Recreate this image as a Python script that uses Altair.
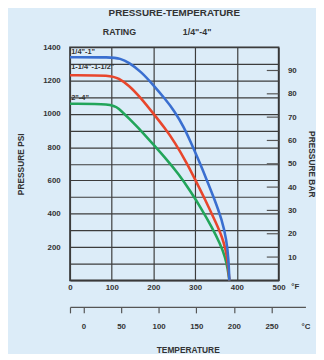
import altair as alt
import pandas as pd

# ---- data ----
sizes = ['1/4"-1"', '1-1/4"-1-1/2"', '2"-4"']
colors = ["#3a6fd0", "#e8462c", "#22a55a"]

temp_small = [0, 100, 120, 140, 171, 199, 227, 251, 274, 288, 312, 328, 347, 364, 375, 380, 382]
psi_small = [1340, 1340, 1332, 1311, 1252, 1175, 1092, 1015, 915, 838, 702, 601, 483, 364, 246, 128, 0]

temp_mid = [0, 100, 116, 140, 171, 199, 227, 251, 281, 300, 325, 350, 365, 373, 378, 382]
psi_mid = [1232, 1232, 1212, 1175, 1092, 1004, 915, 830, 700, 605, 480, 345, 258, 185, 115, 0]

temp_large = [0, 100, 116, 140, 171, 200, 230, 260, 290, 315, 340, 360, 372, 378, 382]
psi_large = [1060, 1060, 1035, 975, 897, 815, 730, 640, 530, 430, 320, 220, 140, 70, 0]

label_temp = [3, 3, 3]
label_psi = [1372, 1282, 1094]

f_ticks = [0, 100, 200, 300, 400, 500]
psi_grid = list(range(0, 1500, 100))
bar_ticks = [10, 20, 30, 40, 50, 60, 70, 80, 90]
c_ticks = [-17.78, 0, 50, 100, 150, 200, 250, 295]

# ---- tables ----
rows = []
seq = 0
for name, ts, ps in [(sizes[2], temp_large, psi_large),
                     (sizes[1], temp_mid, psi_mid),
                     (sizes[0], temp_small, psi_small)]:
    for t, p in zip(ts, ps):
        rows.append({"size": name, "temp": t, "psi": p, "seq": seq})
        seq += 1
lines_df = pd.DataFrame(rows)
labels_df = pd.DataFrame({"label": sizes, "temp": label_temp, "psi": label_psi})
bar_df = pd.DataFrame({"bar": bar_ticks})
cel_df = pd.DataFrame({"c": c_ticks})

W, H = 212, 237
FONT = "Liberation Sans"
DARK = "#333333"
GRID = "#3c3c3c"
NB = "\u00a0"

x_f = alt.X("temp:Q", scale=alt.Scale(domain=[0, 500], nice=False),
            axis=alt.Axis(values=f_ticks, grid=True, gridColor=GRID, gridWidth=1.2,
                          ticks=False, domain=False, labelPadding=3, title=None,
                          orient="bottom", labelFlush=False))
y_psi = alt.Y("psi:Q", scale=alt.Scale(domain=[0, 1400], nice=False),
              axis=alt.Axis(values=psi_grid, grid=True, gridColor=GRID, gridWidth=1.2,
                            ticks=False, domain=False, format="d", labelOverlap=False,
                            labelExpr="datum.value % 200 == 0 && datum.value > 0 ? datum.label : ''",
                            labelPadding=10, title="PRESSURE PSI", titlePadding=17,
                            orient="left", labelFlush=False))

lines = alt.Chart(lines_df).mark_line(strokeWidth=2.6, interpolate="basis").encode(
    x=x_f, y=y_psi,
    color=alt.Color("size:N", scale=alt.Scale(domain=sizes, range=colors), legend=None),
    order=alt.Order("seq:Q"),
)

labels = alt.Chart(labels_df).mark_text(align="left", baseline="middle", fontSize=7.5,
                                        fontWeight="bold", color=DARK, font=FONT).encode(
    x=x_f, y=y_psi, text="label:N")

unit_f = alt.Chart(pd.DataFrame({"u": ["°F"]})).mark_text(
    fontSize=8, fontWeight="bold", color=DARK, font=FONT, baseline="top").encode(
    x=alt.value(W + 17), y=alt.value(H + 3), text="u:N")

main = alt.layer(lines, labels, unit_f)

cel = alt.Chart(cel_df).mark_point(opacity=0).encode(
    x=alt.X("c:Q",
            scale=alt.Scale(domain=[-17.78, 295], range=[0, 0.765 * (295 + 17.78)], nice=False,
                            zero=False),
            axis=alt.Axis(values=c_ticks, orient="bottom", offset=27, grid=False,
                          domain=True, domainColor="#555555", domainWidth=1.2,
                          ticks=True, tickSize=6, tickWidth=1.2,
                          tickColor={"condition": {"test": "datum.value > 280", "value": "transparent"},
                                     "value": "#555555"},
                          labelExpr="datum.value < -1 ? '' : (datum.value > 280 ? '°C' : datum.label)",
                          format="d", labelPadding=10, labelFlush=False,
                          title="TEMPERATURE", titlePadding=15))
)

bars = alt.Chart(bar_df).mark_rule(color="#555555", strokeWidth=1.2).encode(
    y=alt.Y("bar:Q", scale=alt.Scale(domain=[0, 100], nice=False),
            axis=alt.Axis(values=bar_ticks, orient="right", ticks=False, domain=False,
                          grid=False, labelPadding=9, title="PRESSURE BAR", titlePadding=10)),
    x=alt.value(W - 12), x2=alt.value(W),
)

aux = alt.layer(cel, bars)

chart = alt.layer(main, aux).resolve_scale(x="independent", y="independent").properties(
    width=W, height=H,
    autosize=alt.AutoSizeParams(type="none"),
    padding={"left": 63, "top": 37, "right": 38, "bottom": 72},
    title=alt.TitleParams(
        "PRESSURE-TEMPERATURE",
        subtitle=["RATING" + NB * 19 + '1/4"-4"' + NB * 14 + "\u200b"],
        fontSize=10, fontWeight="bold", font=FONT, color=DARK,
        subtitleFontSize=9, subtitleFontWeight="bold", subtitleFont=FONT, subtitleColor=DARK,
        anchor="middle", offset=6, subtitlePadding=11,
    ),
).configure(background="#dcecf8").configure_view(
    stroke=DARK, strokeWidth=1.6
).configure_axis(
    labelFont=FONT, labelFontSize=8, labelFontWeight="bold", labelColor=DARK,
    titleFont=FONT, titleFontSize=8.5, titleFontWeight="bold", titleColor=DARK,
)

chart.save("out.html", embed_options={"renderer": "svg", "actions": False})
